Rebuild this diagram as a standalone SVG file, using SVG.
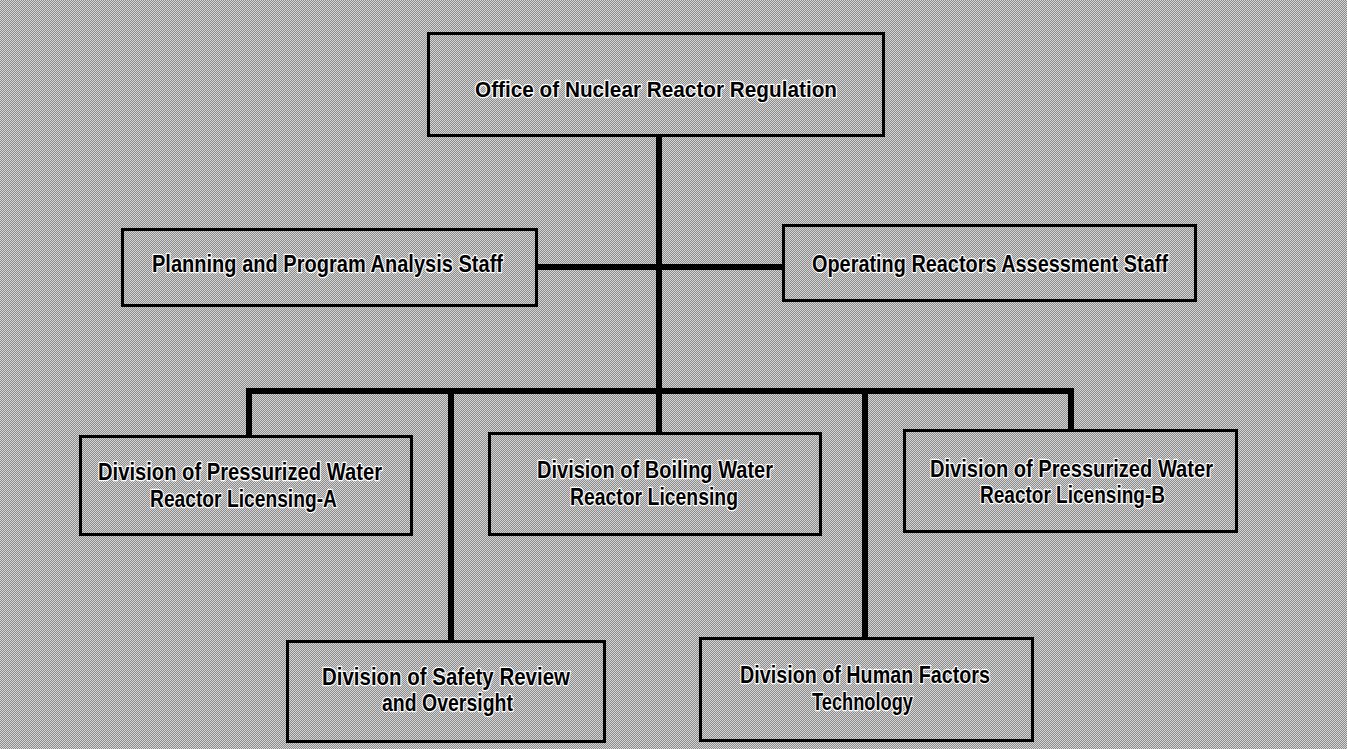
<svg xmlns="http://www.w3.org/2000/svg" width="1347" height="749" viewBox="0 0 1347 749">
<defs>
<pattern id="ht" width="2" height="2" patternUnits="userSpaceOnUse">
<rect width="2" height="2" fill="#8c8c8c"/>
<rect x="0" y="0" width="1" height="1" fill="#d4d4d4"/>
<rect x="1" y="1" width="1" height="1" fill="#d4d4d4"/>
</pattern>
<style>
.box{fill:url(#ht);stroke:#000;stroke-width:3}
.t{font-family:"Liberation Sans",Arial,sans-serif;font-weight:bold;font-size:24px;fill:#000;stroke:#fff;stroke-width:2.5;paint-order:stroke;stroke-linejoin:round}
.t1{font-size:22px}
.c{fill:none;stroke:#000;stroke-width:6}
</style>
</defs>
<rect width="1347" height="749" fill="url(#ht)"/>
<g id="connectors">
<line class="c" x1="659" y1="137" x2="659" y2="432"/>
<line class="c" x1="538" y1="267" x2="782" y2="267"/>
<polyline class="c" points="249,435 249,391 1071,391 1071,429"/>
<line class="c" x1="451" y1="391" x2="451" y2="640"/>
<line class="c" x1="865" y1="391" x2="865" y2="637"/>
</g>
<g id="office">
<rect class="box" x="428.5" y="33.5" width="455" height="102"/>
<text class="t t1" x="475" y="97" textLength="362" lengthAdjust="spacingAndGlyphs">Office of Nuclear Reactor Regulation</text>
</g>
<g id="planning">
<rect class="box" x="122.5" y="229.5" width="414" height="76"/>
<text class="t" x="152" y="272" textLength="351" lengthAdjust="spacingAndGlyphs">Planning and Program Analysis Staff</text>
</g>
<g id="operating">
<rect class="box" x="783.5" y="225.5" width="412" height="75"/>
<text class="t" x="812" y="272" textLength="356" lengthAdjust="spacingAndGlyphs">Operating Reactors Assessment Staff</text>
</g>
<g id="pwr-a">
<rect class="box" x="80.5" y="436.5" width="331" height="98"/>
<text class="t" x="98" y="480" textLength="284" lengthAdjust="spacingAndGlyphs">Division of Pressurized Water</text>
<text class="t" x="150" y="507" textLength="187" lengthAdjust="spacingAndGlyphs">Reactor Licensing-A</text>
</g>
<g id="bwr">
<rect class="box" x="489.5" y="433.5" width="331" height="101"/>
<text class="t" x="537" y="478" textLength="236" lengthAdjust="spacingAndGlyphs">Division of Boiling Water</text>
<text class="t" x="570" y="505" textLength="168" lengthAdjust="spacingAndGlyphs">Reactor Licensing</text>
</g>
<g id="pwr-b">
<rect class="box" x="904.5" y="430.5" width="332" height="101"/>
<text class="t" x="930" y="477" textLength="283" lengthAdjust="spacingAndGlyphs">Division of Pressurized Water</text>
<text class="t" x="980" y="503" textLength="185" lengthAdjust="spacingAndGlyphs">Reactor Licensing-B</text>
</g>
<g id="safety">
<rect class="box" x="287.5" y="641.5" width="317" height="100"/>
<text class="t" x="322" y="685" textLength="248" lengthAdjust="spacingAndGlyphs">Division of Safety Review</text>
<text class="t" x="382" y="711" textLength="131" lengthAdjust="spacingAndGlyphs">and Oversight</text>
</g>
<g id="human">
<rect class="box" x="700.5" y="638.5" width="332" height="102"/>
<text class="t" x="740" y="683" textLength="250" lengthAdjust="spacingAndGlyphs">Division of Human Factors</text>
<text class="t" x="812" y="710" textLength="101" lengthAdjust="spacingAndGlyphs">Technology</text>
</g>
</svg>
